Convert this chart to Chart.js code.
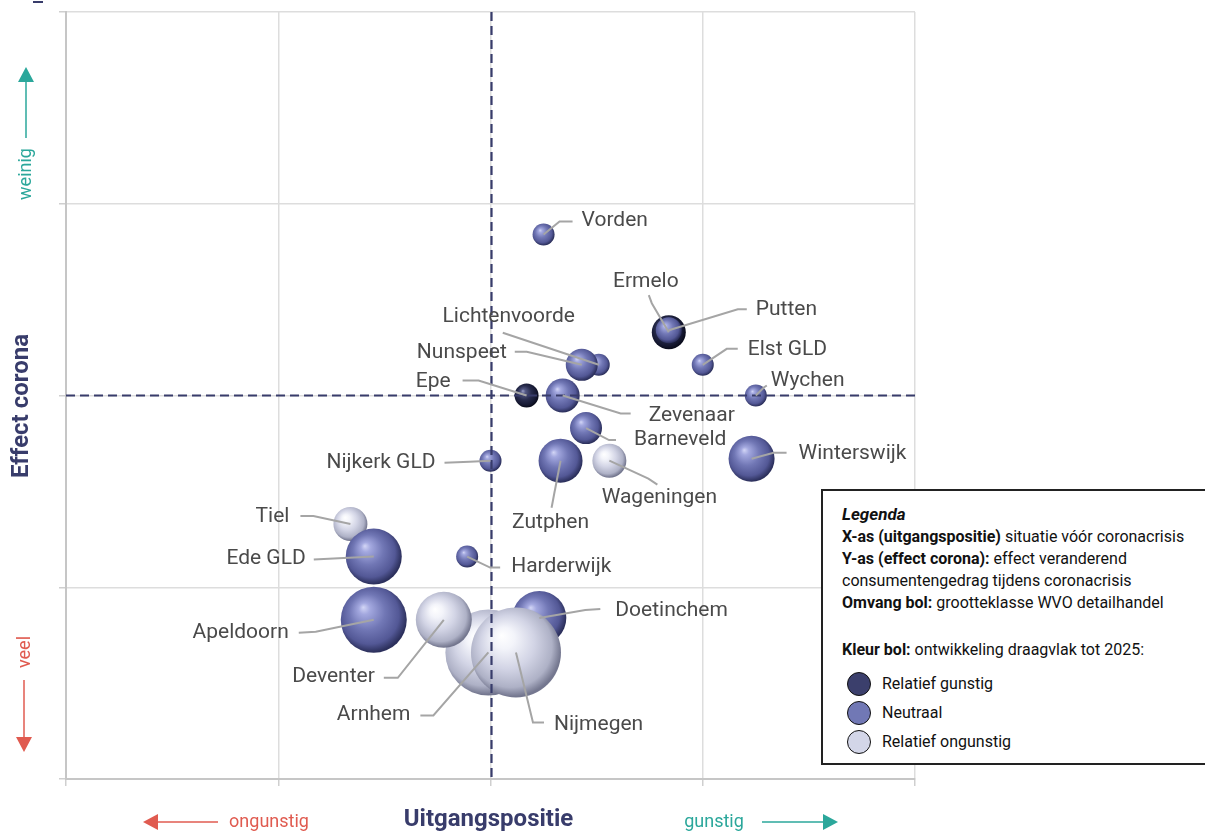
<!DOCTYPE html>
<html lang="nl">
<head>
<meta charset="utf-8">
<title>Uitgangspositie en effect corona</title>
<script src="https://cdn.jsdelivr.net/npm/chart.js@4.4.1/dist/chart.umd.min.js"></script>
<style>
    html, body { margin: 0; padding: 0; background: #fff; }
    #wrap { position: relative; width: 1205px; height: 834px; overflow: hidden; }
    #wrap canvas { position: absolute; left: 0; top: 0; }
    #legenda {
        position: absolute; left: 821px; top: 489px; width: 386px; height: 276px;
        box-sizing: border-box; border: 2px solid #222; background: #fff;
        padding: 12px 0 0 19px; font-family: Roboto, sans-serif; font-size: 16px;
        line-height: 22px; color: #111;
    }
    #legenda .kop { font-size: 17px; font-weight: 700; font-style: italic; margin-bottom: 1px; }
    #legenda .gap { height: 25px; }
    #legenda .items { margin-top: 8px; }
    #legenda .item { display: flex; align-items: center; height: 29px; margin-left: 5px; }
    #legenda .bol { width: 24px; height: 24px; border-radius: 50%; border: 1px solid #111; box-sizing: border-box; margin-right: 11px; }
</style>
</head>
<body>
<div id="wrap">
    <canvas id="bubbleChart" width="1205" height="834"></canvas>
    <div id="legenda">
        <div class="kop">Legenda</div>
        <div><b>X-as (uitgangspositie)</b> situatie vóór coronacrisis</div>
        <div><b>Y-as (effect corona):</b> effect veranderend</div>
        <div>consumentengedrag tijdens coronacrisis</div>
        <div><b>Omvang bol:</b> grootteklasse WVO detailhandel</div>
        <div class="gap"></div>
        <div><b>Kleur bol:</b> ontwikkeling draagvlak tot 2025:</div>
        <div class="items">
            <div class="item"><span class="bol" style="background:#3b3f6c"></span>Relatief gunstig</div>
            <div class="item"><span class="bol" style="background:#7178b5"></span>Neutraal</div>
            <div class="item"><span class="bol" style="background:#d3d6e8"></span>Relatief ongunstig</div>
        </div>
    </div>
</div>
<script>
// Gemeenten (volgorde = tekenvolgorde, achterste eerst)
const gemeenten = ['Vorden', 'Ermelo', 'Putten', 'Elst GLD', 'Wychen', 'Lichtenvoorde', 'Nunspeet', 'Epe',
    'Zevenaar', 'Barneveld', 'Zutphen', 'Wageningen', 'Nijkerk GLD', 'Winterswijk', 'Tiel', 'Ede GLD',
    'Harderwijk', 'Arnhem', 'Doetinchem', 'Deventer', 'Apeldoorn', 'Nijmegen'];
const uitgangspositie = [0.25, 0.84, 0.84, 1.00, 1.25, 0.51, 0.43, 0.17,
    0.34, 0.45, 0.33, 0.56, 0.00, 1.23, -0.66, -0.55,
    -0.11, -0.01, 0.23, -0.22, -0.55, 0.12];
const effectCorona = [0.84, 0.33, 0.34, 0.16, 0.00, 0.16, 0.16, 0.00,
    0.00, -0.17, -0.34, -0.34, -0.34, -0.33, -0.67, -0.84,
    -0.84, -1.34, -1.16, -1.17, -1.17, -1.34];
// grootteklasse WVO detailhandel (straal bol)
const omvang = [11, 17, 13, 11, 11, 11, 16, 12,
    17, 16, 22, 17, 11, 23, 17, 28,
    11, 43, 27, 28, 33, 45];
// ontwikkeling draagvlak: 'gunstig' | 'neutraal' | 'ongunstig'
const draagvlak = ['neutraal', 'gunstig', 'neutraal', 'neutraal', 'neutraal', 'neutraal', 'neutraal', 'gunstig',
    'neutraal', 'neutraal', 'neutraal', 'ongunstig', 'neutraal', 'neutraal', 'ongunstig', 'neutraal',
    'neutraal', 'ongunstig', 'neutraal', 'ongunstig', 'neutraal', 'ongunstig'];
const asTicks = [-2, -1, 0, 1, 2];

// Kleurverloop per klasse (3D bol)
const bolKleuren = {
    gunstig:   [[0, '#9a9fc8'], [0.18, '#535884'], [0.55, '#272b4c'], [0.85, '#161933'], [1, '#0a0c1c']],
    neutraal:  [[0, '#d3d6f6'], [0.16, '#a3a8df'], [0.5, '#7177b5'], [0.82, '#535896'], [1, '#2c305c']],
    ongunstig: [[0, '#ffffff'], [0.22, '#f3f4fa'], [0.55, '#d2d4e5'], [0.85, '#aeb1c6'], [1, '#74778f']]
};

// Labelplaatsing t.o.v. middelpunt bol (pixels): tekstanker, uitlijning, knikpunten leader
const labelPlaats = {
    'Vorden':        { t: [38, -14], a: 'left',   k: [[16, -13], [29, -13]] },
    'Ermelo':        { t: [-23, -50], a: 'center', k: [[-17, -29], [-20, -37]] },
    'Putten':        { t: [87, -21], a: 'left',   k: [[69, -21], [78, -21]] },
    'Elst GLD':      { t: [45, -15], a: 'left',   k: [[24, -16], [35, -16]] },
    'Wychen':        { t: [15, -15], a: 'left',   k: [[8, -8], [11, -10]] },
    'Nunspeet':      { t: [-75, -12], a: 'right', k: [[-55, -13], [-67, -13]] },
    'Lichtenvoorde': { t: [-90, -48], a: 'center', k: [[-96, -32]] },
    'Epe':           { t: [-76, -14], a: 'right', k: [[-48, -15], [-64, -15]] },
    'Zevenaar':      { t: [86, 20], a: 'left',    k: [[58, 18], [68, 18]] },
    'Barneveld':     { t: [48, 12], a: 'left',    k: [[23, 12], [30, 12]] },
    'Zutphen':       { t: [-10, 62], a: 'center', k: [[-9, 47]] },
    'Wageningen':    { t: [50, 37], a: 'center',  k: [[39, 18], [48, 24]] },
    'Nijkerk GLD':   { t: [-55, 2], a: 'right',   k: [[-21, 1], [-46, 2]] },
    'Winterswijk':   { t: [47, -5], a: 'left',    k: [[22, -6], [35, -6]] },
    'Tiel':          { t: [-61, -7], a: 'right',  k: [[-37, -8], [-50, -8]] },
    'Ede GLD':       { t: [-68, 2], a: 'right',   k: [[-60, 3]] },
    'Harderwijk':    { t: [44, 10], a: 'left',    k: [[23, 11], [33, 11]] },
    'Apeldoorn':     { t: [-85, 13], a: 'right',  k: [[-58, 12], [-75, 13]] },
    'Deventer':      { t: [-69, 57], a: 'right',  k: [[-46, 58], [-60, 58]] },
    'Arnhem':        { t: [-78, 62], a: 'right',  k: [[-55, 63], [-68, 63]] },
    'Nijmegen':      { t: [38, 72], a: 'left',    k: [[17, 70], [28, 70]] },
    'Doetinchem':    { t: [76, -7], a: 'left',    k: [[46, -8], [61, -9]] }
};

const FONT = 'Roboto, "Noto Sans", sans-serif';
const NAVY = '#383c6b';
const TEAL = '#2ba79b';
const ROOD = '#e05b50';

// Radiaal verloop voor een bol
function bolVulling(context) {
    const chart = context.chart;
    const raw = context.raw;
    const stops = bolKleuren[draagvlak[context.dataIndex]] || bolKleuren.neutraal;
    if (!raw || !chart.scales || !chart.scales.x || !chart.scales.y) return stops[2][1];
    const cx = chart.scales.x.getPixelForValue(raw.x);
    const cy = chart.scales.y.getPixelForValue(raw.y);
    const r = raw.r;
    if (!isFinite(cx) || !isFinite(cy) || !isFinite(r)) return stops[2][1];
    const g = chart.ctx.createRadialGradient(cx - r * 0.32, cy - r * 0.38, 0, cx - r * 0.08, cy - r * 0.1, r * 1.08);
    stops.forEach(s => g.addColorStop(s[0], s[1]));
    return g;
}

function pijl(ctx, x1, y1, x2, y2, kleur) {
    // lijn met driehoekige pijlpunt bij (x2, y2)
    const hoek = Math.atan2(y2 - y1, x2 - x1);
    const lengte = 15, breedte = 8;
    const bx = x2 - Math.cos(hoek) * lengte;
    const by = y2 - Math.sin(hoek) * lengte;
    ctx.strokeStyle = kleur;
    ctx.fillStyle = kleur;
    ctx.lineWidth = 1.5;
    ctx.beginPath();
    ctx.moveTo(x1, y1);
    ctx.lineTo(bx, by);
    ctx.stroke();
    ctx.beginPath();
    ctx.moveTo(x2, y2);
    ctx.lineTo(bx - Math.sin(hoek) * breedte, by + Math.cos(hoek) * breedte);
    ctx.lineTo(bx + Math.sin(hoek) * breedte, by - Math.cos(hoek) * breedte);
    ctx.closePath();
    ctx.fill();
}

const kwadrantPlugin = {
    id: 'kwadrant',
    afterDatasetsDraw(chart) {
        const { ctx, chartArea, scales: { x, y } } = chart;
        ctx.save();

        // gestippelde kwadrantlijnen door het midden
        const mx = Math.round(x.getPixelForValue(0)) + 0.5;
        const my = Math.round(y.getPixelForValue(0)) - 0.5;
        ctx.strokeStyle = NAVY;
        ctx.lineWidth = 2.2;
        ctx.setLineDash([9, 5]);
        ctx.beginPath();
        ctx.moveTo(mx, chartArea.top);
        ctx.lineTo(mx, chartArea.bottom);
        ctx.moveTo(chartArea.left, my);
        ctx.lineTo(chartArea.right, my);
        ctx.stroke();
        ctx.setLineDash([]);

        // leaders + labels
        const meta = chart.getDatasetMeta(0);
        ctx.font = '21px ' + FONT;
        ctx.textBaseline = 'middle';
        meta.data.forEach((el, i) => {
            const lp = labelPlaats[gemeenten[i]];
            if (!lp) return;
            ctx.strokeStyle = '#a5a5a5';
            ctx.lineWidth = 2;
            ctx.beginPath();
            ctx.moveTo(el.x, el.y);
            lp.k.forEach(p => ctx.lineTo(el.x + p[0], el.y + p[1]));
            ctx.stroke();
            ctx.fillStyle = '#4a4a4a';
            ctx.textAlign = lp.a;
            ctx.fillText(gemeenten[i], el.x + lp.t[0], el.y + lp.t[1]);
        });
        ctx.restore();
    },
    afterDraw(chart) {
        const { ctx, chartArea } = chart;
        const cx = (chartArea.left + chartArea.right) / 2;
        ctx.save();

        // klein streepje linksboven
        ctx.fillStyle = NAVY;
        ctx.fillRect(33, 1, 10, 2);

        // astitels
        ctx.fillStyle = NAVY;
        ctx.font = '700 24px ' + FONT;
        ctx.textAlign = 'center';
        ctx.textBaseline = 'middle';
        ctx.fillText('Uitgangspositie', cx - 2, 820);
        ctx.save();
        ctx.translate(22, 406);
        ctx.rotate(-Math.PI / 2);
        ctx.fillText('Effect corona', 0, 0);
        ctx.restore();

        // richtingaanduidingen
        ctx.font = '18px ' + FONT;
        ctx.fillStyle = ROOD;
        ctx.fillText('ongunstig', 269, 822);
        pijl(ctx, 218, 822, 143, 822, ROOD);
        ctx.fillStyle = TEAL;
        ctx.fillText('gunstig', 714, 822);
        pijl(ctx, 762, 822, 838, 822, TEAL);

        ctx.save();
        ctx.translate(26, 174);
        ctx.rotate(-Math.PI / 2);
        ctx.fillStyle = TEAL;
        ctx.fillText('weinig', 0, 0);
        ctx.restore();
        pijl(ctx, 26, 138, 26, 67, TEAL);

        ctx.save();
        ctx.translate(25, 652);
        ctx.rotate(-Math.PI / 2);
        ctx.fillStyle = ROOD;
        ctx.fillText('veel', 0, 0);
        ctx.restore();
        pijl(ctx, 24, 680, 24, 752, ROOD);

        ctx.restore();
    }
};

const punten = gemeenten.map((naam, i) => ({ x: uitgangspositie[i], y: effectCorona[i], r: omvang[i] }));

new Chart(document.getElementById('bubbleChart'), {
    type: 'bubble',
    data: {
        labels: gemeenten,
        datasets: [{
            label: 'Gemeenten',
            data: punten,
            backgroundColor: bolVulling,
            borderWidth: 0,
            hoverRadius: 0
        }]
    },
    plugins: [kwadrantPlugin],
    options: {
        responsive: false,
        animation: false,
        events: [],
        layout: { autoPadding: false, padding: { left: 59, top: 12, right: 290, bottom: 48 } },
        plugins: {
            legend: { display: false },
            tooltip: { enabled: false }
        },
        scales: {
            x: {
                type: 'linear',
                min: asTicks[0],
                max: asTicks[asTicks.length - 1],
                afterBuildTicks: (scale) => { scale.ticks = asTicks.map(v => ({ value: v })); },
                ticks: { display: false },
                grid: { color: '#dddddd', lineWidth: 1.5, tickLength: 7, tickColor: '#cfcfcf' },
                border: { color: '#c6c6c6', width: 2 }
            },
            y: {
                type: 'linear',
                min: asTicks[0],
                max: asTicks[asTicks.length - 1],
                afterBuildTicks: (scale) => { scale.ticks = asTicks.map(v => ({ value: v })); },
                ticks: { display: false },
                grid: { color: '#dddddd', lineWidth: 1.5, tickLength: 7, tickColor: '#cfcfcf' },
                border: { color: '#c6c6c6', width: 2 }
            }
        }
    }
});
</script>
</body>
</html>
